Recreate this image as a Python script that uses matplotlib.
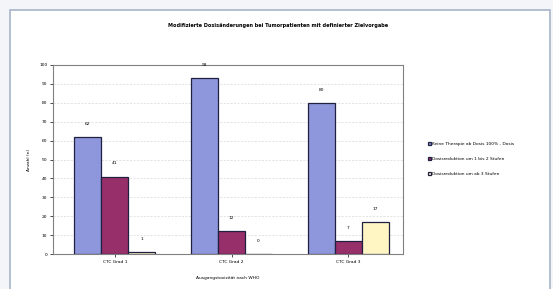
import numpy as np
import matplotlib
matplotlib.use("Agg")
import matplotlib.pyplot as plt
from matplotlib.patches import Rectangle

# data
categories = ["CTC Grad 1", "CTC Grad 2", "CTC Grad 3"]
series_names = [
    "Keine Therapie ab Dosis 100% - Dosis",
    "Dosisreduktion um 1 bis 2 Stufen",
    "Dosisreduktion um ab 3 Stufen",
]
keine = [62, 93, 80]
red_12 = [41, 12, 7]
red_3 = [1, 0, 17]
yticks = list(range(0, 101, 10))

colors = ["#8F97DC", "#962F6A", "#FFF6C4"]
fs = 3.2

fig = plt.figure(figsize=(5.53, 2.89), dpi=100)
fig.patch.set_facecolor("#F3F5F8")
fig.patches.append(Rectangle((10 / 553, -0.05), 540 / 553, 1 - 10 / 289 + 0.05,
                             transform=fig.transFigure, facecolor="white",
                             edgecolor="#AEBBCC", linewidth=1.3, zorder=-5))

ax = fig.add_axes([53 / 553, 35 / 289, 350 / 553, 189 / 289])
ax.set_zorder(2)
x = np.arange(len(categories))
w = 0.231
for i, (vals, name) in enumerate(zip([keine, red_12, red_3], series_names)):
    bars = ax.bar(x + (i - 1) * w, vals, w, color=colors[i], edgecolor="#202040",
                  linewidth=0.9, label=name, zorder=3)
    for b, v in zip(bars, vals):
        ax.annotate(str(v), (b.get_x() + b.get_width() / 2, v), xytext=(0, 9.5),
                    textcoords="offset points", ha="center", va="center", fontsize=fs)

ax.set_xlim(-0.53, 2.47)
ax.set_ylim(0, 100)
ax.set_yticks(yticks)
ax.tick_params(labelsize=fs, length=2, width=0.5, pad=2)
ax.set_xticks(x)
ax.set_xticklabels(categories)
ax.yaxis.grid(True, color="#D8D8D8", linewidth=0.5, linestyle=(0, (3, 2)), zorder=0)
for s in ax.spines.values():
    s.set_color("#808080")
    s.set_linewidth(0.8)
ax.set_ylabel("Anzahl (n)", fontsize=fs, labelpad=6)
ax.set_xlabel("Ausgangstoxizität nach WHO", fontsize=fs, labelpad=9)

fig.text(278 / 553, 1 - 26 / 289,
         "Modifizierte Dosisänderungen bei Tumorpatienten mit definierter Zielvorgabe",
         ha="center", va="center", fontsize=3.6, fontweight="bold")

leg = fig.legend(loc="center left", bbox_to_anchor=(424 / 553, 1 - 159 / 289),
                 fontsize=fs, frameon=False, handlelength=0.6, handleheight=0.6,
                 handletextpad=0.4, labelspacing=2.4)
leg.set_zorder(3)

fig.savefig("out.png", dpi=100, facecolor=fig.get_facecolor())
